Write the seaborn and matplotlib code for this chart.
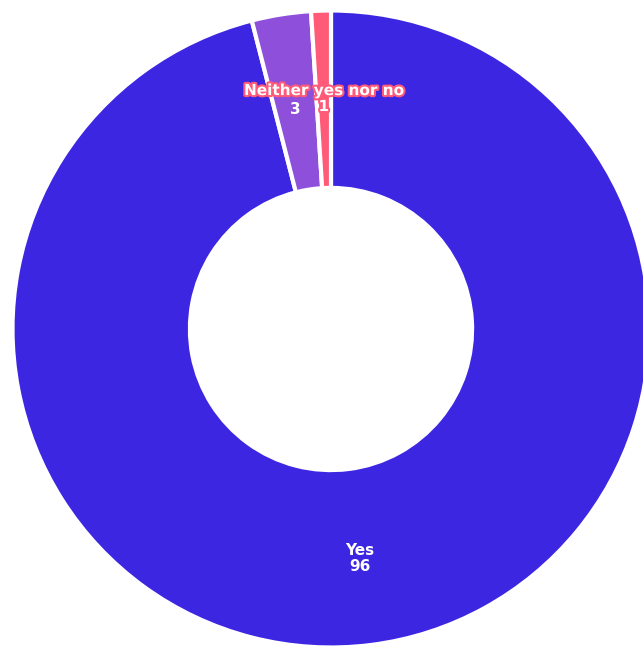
import matplotlib
matplotlib.use("Agg")
import matplotlib.pyplot as plt
import matplotlib.patheffects as pe
import seaborn as sns

categories = ["Yes", "No", "Neither yes nor no"]
values = [96, 3, 1]
shown_names = ["Yes", "", "Neither yes nor no"]
colors = ["#3D26E2", "#8E4FDB", "#FF5A78"]

sns.set_theme(style="white")
plt.rcParams["font.family"] = ["DejaVu Sans"]
palette = sns.color_palette(colors)

fig = plt.figure(figsize=(6.43, 6.46), dpi=100)
ax = fig.add_axes([12.5 / 643, -1.5 / 646, 637 / 643, 637 / 646])

wedges, texts = ax.pie(
    values,
    colors=palette,
    startangle=90,
    counterclock=False,
    labels=[""] * len(values),
    labeldistance=0.725,
    wedgeprops=dict(width=0.557, edgecolor="white", linewidth=3),
)
stroke = [pe.withStroke(linewidth=3, foreground="#FF5A78")]
style = dict(ha="center", va="center", color="white", fontsize=11, fontweight="bold",
             textcoords="offset points")
for i, t in enumerate(texts):
    pos = t.get_position()
    val = ax.annotate(str(values[i]), xy=pos, xytext=(0, -6), **style)
    if shown_names[i]:
        name = ax.annotate(shown_names[i], xy=pos, xytext=(0, 5.5), **style)
        if categories[i] == "Neither yes nor no":
            name.set_path_effects(stroke)
            val.set_path_effects(stroke)
ax.set_xlim(-1, 1)
ax.set_ylim(-1, 1)
ax.set_aspect("equal")
ax.axis("off")
fig.savefig("out.png", dpi=100)
